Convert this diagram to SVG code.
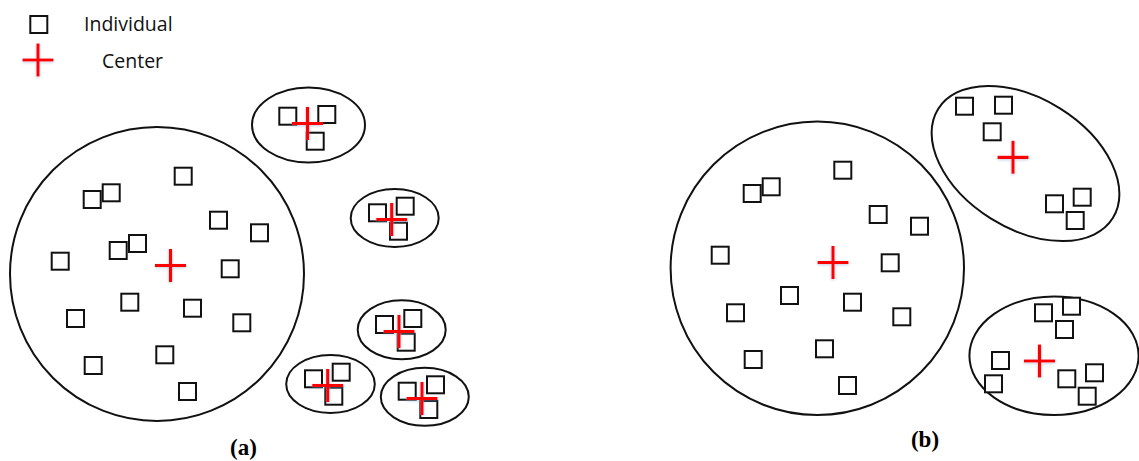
<svg xmlns="http://www.w3.org/2000/svg" xmlns:xlink="http://www.w3.org/1999/xlink" width="1139" height="461" viewBox="0 0 1139 461">
  <defs>
    <style>
      .ind { fill: #fff; stroke: #111; stroke-width: 2; }
      .ring { fill: none; stroke: #111; stroke-width: 2; }
      .ctr { fill: none; stroke: #ff0000; stroke-width: 3.2; filter: url(#glow); }
      .legend { font-family: "Open Sans", "Liberation Sans", sans-serif; font-size: 19.5px; fill: #111; }
      .cap { font-family: "Liberation Serif", "Times New Roman", serif; font-size: 23px; font-weight: bold; fill: #000; text-anchor: middle; }
    </style>
    <filter id="glow" x="-40%" y="-40%" width="180%" height="180%">
      <feGaussianBlur in="SourceAlpha" stdDeviation="1.8" result="b"/>
      <feOffset in="b" dx="0" dy="1" result="o"/>
      <feFlood flood-color="#8aa4c8" flood-opacity="0.55"/>
      <feComposite in2="o" operator="in" result="s"/>
      <feMerge>
        <feMergeNode in="s"/>
        <feMergeNode in="SourceGraphic"/>
      </feMerge>
    </filter>
    <!-- centre marker, drawn around (0,0) -->
    <path id="plus" class="ctr" d="M-15.5 0H15.5M0 -16.5V16.5"/>
  </defs>

  <!-- legend -->
  <g id="legend">
    <rect class="ind" x="30.3" y="16" width="17" height="17"/>
    <text class="legend" x="84" y="30.5">Individual</text>
    <use xlink:href="#plus" x="38" y="60"/>
    <text class="legend" x="102" y="67.5">Center</text>
  </g>

  <!-- panel (a) -->
  <g id="a-main">
    <circle class="ring" cx="157" cy="274" r="147"/>
    <rect class="ind" x="83.7" y="191" width="17" height="17"/>
    <rect class="ind" x="102.7" y="184.3" width="17" height="17"/>
    <rect class="ind" x="174.7" y="167.7" width="17" height="17"/>
    <rect class="ind" x="210" y="211.7" width="17" height="17"/>
    <rect class="ind" x="251" y="224.3" width="17" height="17"/>
    <rect class="ind" x="129" y="235" width="17" height="17"/>
    <rect class="ind" x="109.7" y="242" width="17" height="17"/>
    <rect class="ind" x="51.7" y="252.7" width="17" height="17"/>
    <rect class="ind" x="221.7" y="260.3" width="17" height="17"/>
    <rect class="ind" x="121.3" y="293.7" width="17" height="17"/>
    <rect class="ind" x="184" y="299.7" width="17" height="17"/>
    <rect class="ind" x="67" y="310" width="17" height="17"/>
    <rect class="ind" x="233.3" y="314.3" width="17" height="17"/>
    <rect class="ind" x="156.3" y="346.3" width="17" height="17"/>
    <rect class="ind" x="84.7" y="357" width="17" height="17"/>
    <rect class="ind" x="179" y="383" width="17" height="17"/>
    <use xlink:href="#plus" x="170.5" y="265.5"/>
  </g>

  <g id="a-small-1">
    <ellipse class="ring" cx="308.5" cy="125" rx="56.5" ry="37.5"/>
    <rect class="ind" x="279.3" y="107.7" width="17" height="17"/>
    <rect class="ind" x="318.3" y="106" width="17" height="17"/>
    <rect class="ind" x="306.7" y="132.7" width="17" height="17"/>
    <use xlink:href="#plus" x="307.5" y="123.5"/>
  </g>

  <g id="a-small-2">
    <ellipse class="ring" cx="394.7" cy="218" rx="44" ry="29"/>
    <rect class="ind" x="369" y="204.3" width="17" height="17"/>
    <rect class="ind" x="396.7" y="197.7" width="17" height="17"/>
    <rect class="ind" x="390" y="222.7" width="17" height="17"/>
    <use xlink:href="#plus" x="391.7" y="219.5"/>
  </g>

  <g id="a-small-3">
    <ellipse class="ring" cx="401.7" cy="329.7" rx="44" ry="29.5"/>
    <rect class="ind" x="376" y="316" width="17" height="17"/>
    <rect class="ind" x="404.3" y="310" width="17" height="17"/>
    <rect class="ind" x="397.7" y="333.7" width="17" height="17"/>
    <use xlink:href="#plus" x="399" y="331.5"/>
  </g>

  <g id="a-small-4">
    <ellipse class="ring" cx="330.5" cy="384" rx="44.3" ry="29"/>
    <rect class="ind" x="305" y="370.3" width="17" height="17"/>
    <rect class="ind" x="332.7" y="363.7" width="17" height="17"/>
    <rect class="ind" x="325.3" y="387.7" width="17" height="17"/>
    <use xlink:href="#plus" x="327.7" y="385.5"/>
  </g>

  <g id="a-small-5">
    <ellipse class="ring" cx="424.8" cy="396.8" rx="44" ry="29"/>
    <rect class="ind" x="398.7" y="382.7" width="17" height="17"/>
    <rect class="ind" x="427" y="376.3" width="17" height="17"/>
    <rect class="ind" x="420.3" y="401" width="17" height="17"/>
    <use xlink:href="#plus" x="422" y="398.5"/>
  </g>

  <!-- panel (b) -->
  <g id="b-main">
    <circle class="ring" cx="817.3" cy="268.3" r="146.7"/>
    <rect class="ind" x="743.7" y="185" width="17" height="17"/>
    <rect class="ind" x="762.7" y="178.3" width="17" height="17"/>
    <rect class="ind" x="834.3" y="161.7" width="17" height="17"/>
    <rect class="ind" x="869.7" y="206" width="17" height="17"/>
    <rect class="ind" x="911" y="217.7" width="17" height="17"/>
    <rect class="ind" x="711.7" y="246.7" width="17" height="17"/>
    <rect class="ind" x="881.7" y="254.3" width="17" height="17"/>
    <rect class="ind" x="781" y="287" width="17" height="17"/>
    <rect class="ind" x="844" y="293.7" width="17" height="17"/>
    <rect class="ind" x="727" y="304.3" width="17" height="17"/>
    <rect class="ind" x="893.3" y="308.3" width="17" height="17"/>
    <rect class="ind" x="816" y="340.3" width="17" height="17"/>
    <rect class="ind" x="744.7" y="351" width="17" height="17"/>
    <rect class="ind" x="839" y="377" width="17" height="17"/>
    <use xlink:href="#plus" x="833" y="262.5"/>
  </g>

  <g id="b-upper">
    <ellipse class="ring" cx="1025.5" cy="163.5" rx="103" ry="65" transform="rotate(32 1025.5 163.5)"/>
    <rect class="ind" x="956" y="97.7" width="17" height="17"/>
    <rect class="ind" x="995" y="96.7" width="17" height="17"/>
    <rect class="ind" x="983.7" y="123.3" width="17" height="17"/>
    <rect class="ind" x="1046" y="195.3" width="17" height="17"/>
    <rect class="ind" x="1073.7" y="188.7" width="17" height="17"/>
    <rect class="ind" x="1066.7" y="212" width="17" height="17"/>
    <use xlink:href="#plus" x="1013" y="157.3"/>
  </g>

  <g id="b-lower">
    <ellipse class="ring" cx="1054" cy="355.8" rx="84.6" ry="59.2"/>
    <rect class="ind" x="1035" y="304.3" width="17" height="17"/>
    <rect class="ind" x="1063" y="297.7" width="17" height="17"/>
    <rect class="ind" x="1056" y="321" width="17" height="17"/>
    <rect class="ind" x="992" y="352" width="17" height="17"/>
    <rect class="ind" x="985" y="375.3" width="17" height="17"/>
    <rect class="ind" x="1058.3" y="370.3" width="17" height="17"/>
    <rect class="ind" x="1086" y="364.3" width="17" height="17"/>
    <rect class="ind" x="1078.7" y="387.7" width="17" height="17"/>
    <use xlink:href="#plus" x="1039.5" y="361"/>
  </g>

  <!-- captions -->
  <g id="captions">
    <text class="cap" x="243.5" y="455">(a)</text>
    <text class="cap" x="925" y="447">(b)</text>
  </g>
</svg>
